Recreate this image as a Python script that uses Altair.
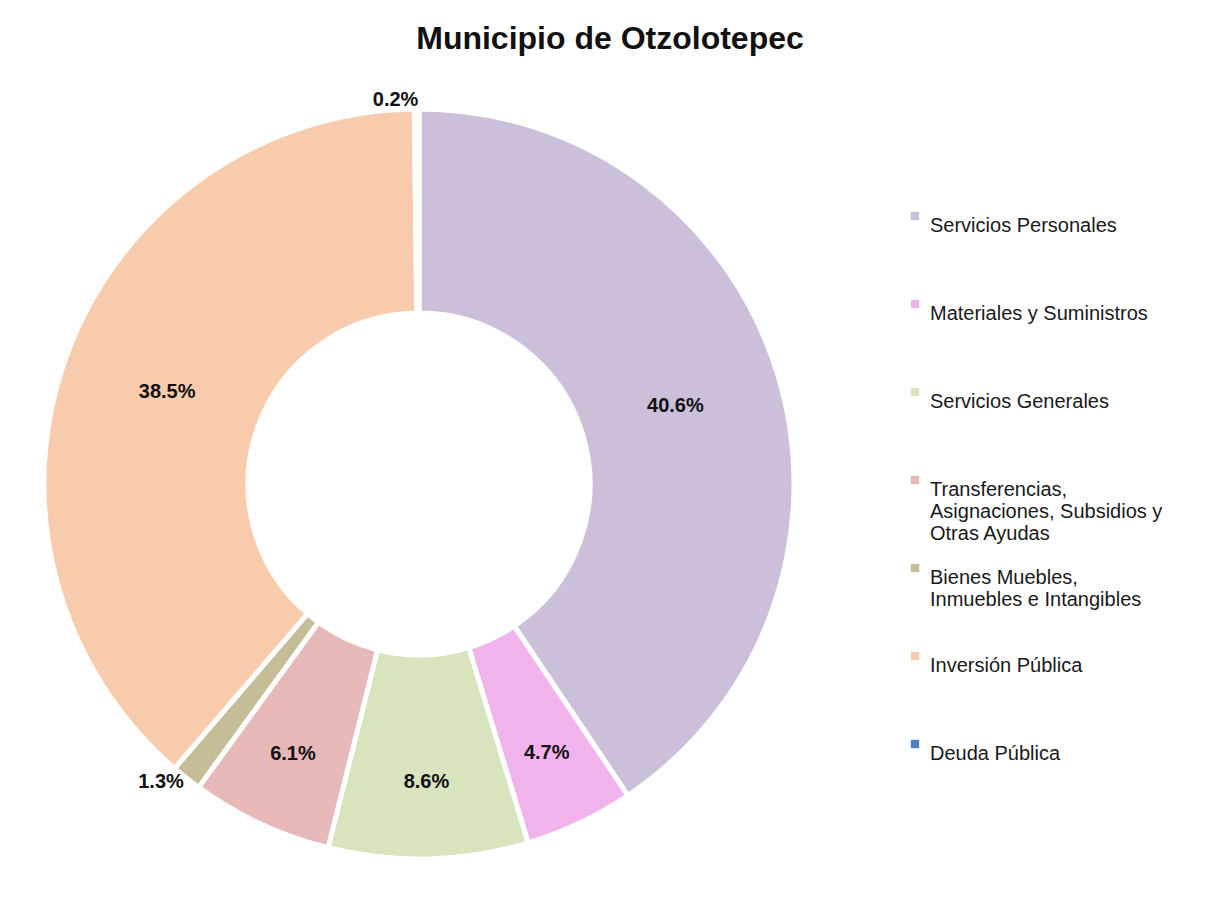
import altair as alt
import pandas as pd

categories = [
    "Servicios Personales",
    "Materiales y Suministros",
    "Servicios Generales",
    "Transferencias,|Asignaciones, Subsidios y|Otras Ayudas",
    "Bienes Muebles,|Inmuebles e Intangibles",
    "Inversión Pública",
    "Deuda Pública",
]
values = [40.6, 4.7, 8.6, 6.1, 1.3, 38.5, 0.2]
colors = ["#CBBFDA", "#F1B3EC", "#D7E4BD", "#E6B8B8", "#C4BD97", "#F8CBAD", "#4F81BD"]

df = pd.DataFrame({"cat": categories, "value": values, "idx": list(range(len(values)))})

FONT = "Liberation Sans"

base = alt.Chart(df).encode(
    theta=alt.Theta("value:Q", stack=True),
    order=alt.Order("idx:Q"),
)

arcs = base.mark_arc(innerRadius=171, outerRadius=375, stroke="white", strokeWidth=5).encode(
    color=alt.Color(
        "cat:N",
        scale=alt.Scale(domain=categories, range=colors),
        sort=categories,
        legend=alt.Legend(
            title=None,
            orient="none",
            legendX=892,
            legendY=102,
            labelExpr="split(datum.label, '|')",
            labelFont=FONT,
            labelFontSize=20,
            labelColor="#1a1a1a",
            labelLimit=400,
            labelBaseline="top",
            labelOffset=5,
            symbolType="square",
            symbolSize=70,
            symbolStrokeWidth=0,
            gridAlign="all",
            rowPadding=14,
        ),
    )
)


def labels(cond, radius, dx=0, dy=0):
    return base.transform_calculate(
        lbl=f"({cond}) ? format(datum.value, '.1f') + '%' : ''"
    ).mark_text(
        radius=radius, dx=dx, dy=dy, font=FONT, fontSize=20, fontWeight="bold", color="#111"
    ).encode(text="lbl:N")


big = labels("datum.value >= 30", 268)
mid = labels("datum.value >= 2 && datum.value < 30", 298)
outer = labels("datum.value < 2", 382, dx=-21, dy=-2)

chart = (
    alt.layer(arcs, big, mid, outer)
    .properties(
        width=812,
        height=760,
        padding={"top": 15, "left": 5, "right": 5, "bottom": 5},
        title=alt.TitleParams(
            "Municipio de Otzolotepec",
            font=FONT,
            fontSize=32,
            fontWeight="bold",
            color="#111",
            anchor="middle",
            dx=191,
            offset=34,
        ),
    )
    .configure_view(stroke=None)
    .configure(background="white")
)

chart.save("out.html", embed_options={"renderer": "svg", "actions": False})
